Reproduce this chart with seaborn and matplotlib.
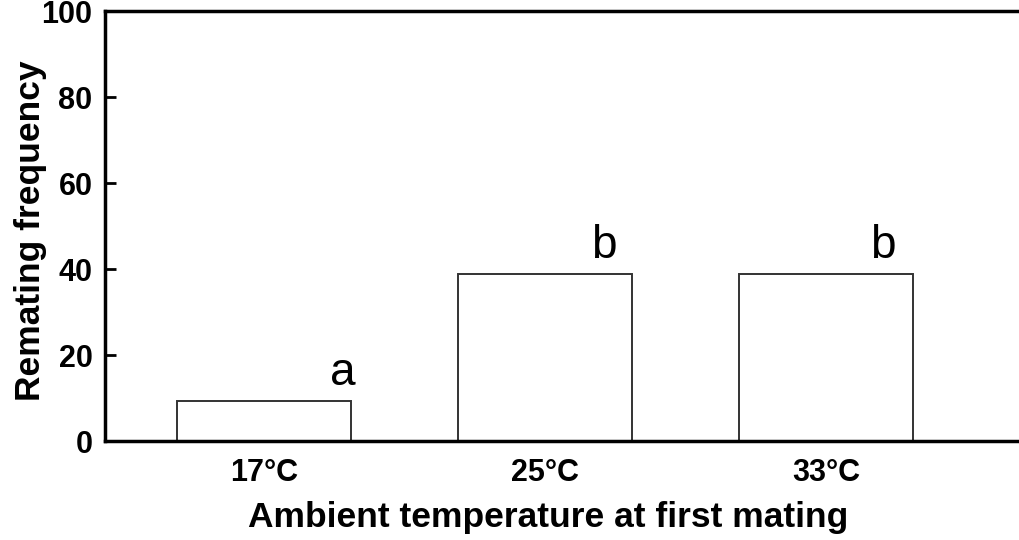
import matplotlib
matplotlib.use("Agg")
import matplotlib.pyplot as plt
import seaborn as sns
import pandas as pd

categories = ["17°C", "25°C", "33°C"]
remating = [9.2, 38.8, 38.8]
letters = ["a", "b", "b"]

# layout only: horizontal offset of the significance letters from bar centres
letter_dx = [0.28, 0.21, 0.20]

sns.set_theme(style="white")
plt.rcParams['font.family'] = ['Liberation Sans', 'DejaVu Sans']
plt.rcParams['text.color'] = 'black'
plt.rcParams['axes.labelcolor'] = 'black'
plt.rcParams['xtick.color'] = 'black'
plt.rcParams['ytick.color'] = 'black'

df = pd.DataFrame({"temp": categories, "freq": remating})

fig = plt.figure(figsize=(10.2, 5.4), dpi=100)
ax = fig.add_axes([0.103, 0.1833, 0.897, 0.7963])

sns.barplot(data=df, x="temp", y="freq", color="white", edgecolor="#333333",
            linewidth=1.4, width=0.62, saturation=1, ax=ax)

for i, (v, t) in enumerate(zip(remating, letters)):
    ax.text(i + letter_dx[i], v + 1.4, t, fontsize=33, ha="center",
            va="bottom", color="black")

ax.set_ylim(0, 100)
ax.set_xlim(-0.566, 2.69)
ax.set_yticks([0, 20, 40, 60, 80, 100])

for s in ["left", "bottom", "top"]:
    ax.spines[s].set_visible(True)
    ax.spines[s].set_color("black")
    ax.spines[s].set_linewidth(2.5)
ax.spines["right"].set_visible(False)

ax.tick_params(axis="y", direction="in", length=8, width=2, color="black",
               labelsize=22, pad=9, left=True, labelcolor="black")
ax.tick_params(axis="x", length=0, labelsize=22, pad=12, labelcolor="black")
for lab in ax.get_yticklabels() + ax.get_xticklabels():
    lab.set_fontweight("bold")

ax.set_xlabel("Ambient temperature at first mating", fontsize=25.5,
              fontweight="bold", color="black")
ax.set_ylabel("Remating frequency", fontsize=25.5, fontweight="bold",
              color="black")
ax.xaxis.set_label_coords(0.484, -0.14)
ax.yaxis.set_label_coords(-0.064, 0.49)

fig.savefig("out.png", dpi=100)
